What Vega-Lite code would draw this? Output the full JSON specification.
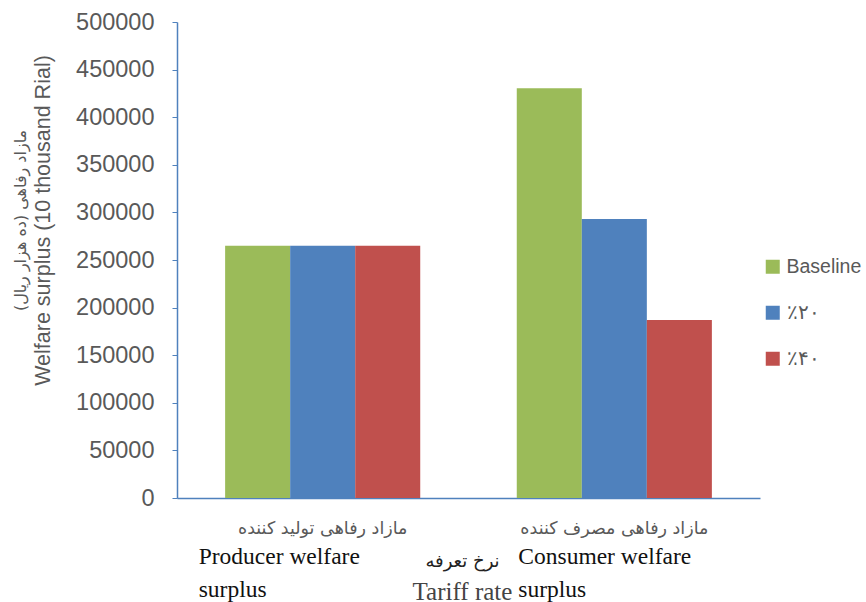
{
  "$schema": "https://vega.github.io/schema/vega-lite/v6.json",
  "width": 583,
  "height": 476,
  "autosize": {"type": "none"},
  "padding": {"left": 177, "top": 22, "right": 106, "bottom": 104},
  "background": "white",
  "data": {"values": [
    {"cat": "مازاد رفاهی تولید کننده", "en": "Producer welfare\nsurplus", "scenario": "Baseline", "value": 265000},
    {"cat": "مازاد رفاهی تولید کننده", "en": "Producer welfare\nsurplus", "scenario": "٪۲۰", "value": 265000},
    {"cat": "مازاد رفاهی تولید کننده", "en": "Producer welfare\nsurplus", "scenario": "٪۴۰", "value": 265000},
    {"cat": "مازاد رفاهی مصرف کننده", "en": "Consumer welfare\nsurplus", "scenario": "Baseline", "value": 430500},
    {"cat": "مازاد رفاهی مصرف کننده", "en": "Consumer welfare\nsurplus", "scenario": "٪۲۰", "value": 293000},
    {"cat": "مازاد رفاهی مصرف کننده", "en": "Consumer welfare\nsurplus", "scenario": "٪۴۰", "value": 187000}
  ]},
  "resolve": {"scale": {"y": "independent"}, "axis": {"y": "independent", "x": "independent"}},
  "layer": [
    {
      "mark": {"type": "bar"},
      "encoding": {
        "x": {
          "field": "cat", "type": "nominal", "sort": null,
          "scale": {"paddingInner": 0.331, "paddingOuter": 0.165},
          "axis": {
            "title": "Tariff rate",
            "titleFont": "Liberation Serif", "titleFontSize": 25, "titleFontWeight": "normal",
            "titleColor": "#444", "titleX": 285, "titleY": 93, "titleAlign": "center", "titleBaseline": "middle",
            "labelAngle": 0, "labelFont": "DejaVu Sans", "labelFontSize": 17.5, "labelColor": "#595959", "labelLimit": 400,
            "labelPadding": 21, "ticks": false, "domainColor": "#4f81bd", "domainWidth": 1.5
          }
        },
        "xOffset": {"field": "scenario", "type": "nominal", "sort": ["Baseline", "٪۲۰", "٪۴۰"]},
        "y": {
          "field": "value", "type": "quantitative",
          "scale": {"domain": [0, 500000]},
          "axis": {
            "orient": "left",
            "title": "Welfare surplus (10 thousand Rial)",
            "titleFont": "Liberation Sans", "titleFontSize": 21.5, "titleFontWeight": "normal",
            "titleColor": "#595959", "titleX": -134, "titleY": 198, "titleAlign": "center", "titleBaseline": "middle", "titleAngle": -90,
            "values": [0, 50000, 100000, 150000, 200000, 250000, 300000, 350000, 400000, 450000, 500000],
            "labelOverlap": false,
            "format": "d", "labelFont": "Liberation Sans", "labelFontSize": 23.5, "labelColor": "#595959",
            "grid": false, "domainColor": "#4f81bd", "domainWidth": 1.5, "tickColor": "#4f81bd", "tickSize": 5, "labelPadding": 18
          }
        },
        "color": {
          "field": "scenario", "type": "nominal", "sort": ["Baseline", "٪۲۰", "٪۴۰"],
          "scale": {"domain": ["Baseline", "٪۲۰", "٪۴۰"], "range": ["#9bbb59", "#4f81bd", "#c0504d"]},
          "legend": {
            "title": null, "orient": "none", "legendX": 586, "legendY": 235,
            "symbolType": "square", "symbolSize": 196, "symbolStrokeWidth": 0,
            "labelFont": "Liberation Sans", "labelFontSize": 19.5, "labelColor": "#595959",
            "rowPadding": 25, "labelOffset": 4
          }
        }
      }
    },
    {
      "transform": [{"filter": "datum.scenario === 'Baseline' && datum.en === 'Producer welfare\\nsurplus'"}],
      "mark": {"type": "text", "align": "left", "baseline": "middle", "dx": -124, "dy": 59,
               "font": "Liberation Serif", "fontSize": 23.5, "color": "#111", "lineBreak": "\n", "lineHeight": 33},
      "encoding": {
        "x": {
          "field": "cat", "type": "nominal", "sort": null,
          "axis": {
            "orient": "bottom", "labels": false, "ticks": false, "domain": false, "grid": false,
            "title": "نرخ تعرفه",
            "titleFont": "DejaVu Sans", "titleFontSize": 18, "titleFontWeight": "normal",
            "titleColor": "#222", "titleX": 285, "titleY": 63, "titleAlign": "center", "titleBaseline": "middle"
          }
        },
        "y": {
          "datum": 0, "type": "quantitative",
          "scale": {"domain": [0, 500000]},
          "axis": {
            "orient": "left", "labels": false, "ticks": false, "domain": false, "grid": false,
            "title": "مازاد رفاهی (ده هزار ریال)",
            "titleFont": "DejaVu Sans", "titleFontSize": 16, "titleFontWeight": "normal",
            "titleColor": "#595959", "titleX": -157, "titleY": 198, "titleAlign": "center", "titleBaseline": "middle", "titleAngle": -90
          }
        },
        "text": {"field": "en"}
      }
    },
    {
      "transform": [{"filter": "datum.scenario === 'Baseline' && datum.en === 'Consumer welfare\\nsurplus'"}],
      "mark": {"type": "text", "align": "left", "baseline": "middle", "dx": -96, "dy": 59,
               "font": "Liberation Serif", "fontSize": 23.5, "color": "#111", "lineBreak": "\n", "lineHeight": 33},
      "encoding": {
        "x": {"field": "cat", "type": "nominal", "sort": null, "axis": null},
        "y": {
          "datum": 0, "type": "quantitative",
          "scale": {"domain": [0, 500000]},
          "axis": null
        },
        "text": {"field": "en"}
      }
    }
  ],
  "config": {"view": {"stroke": null}}
}
